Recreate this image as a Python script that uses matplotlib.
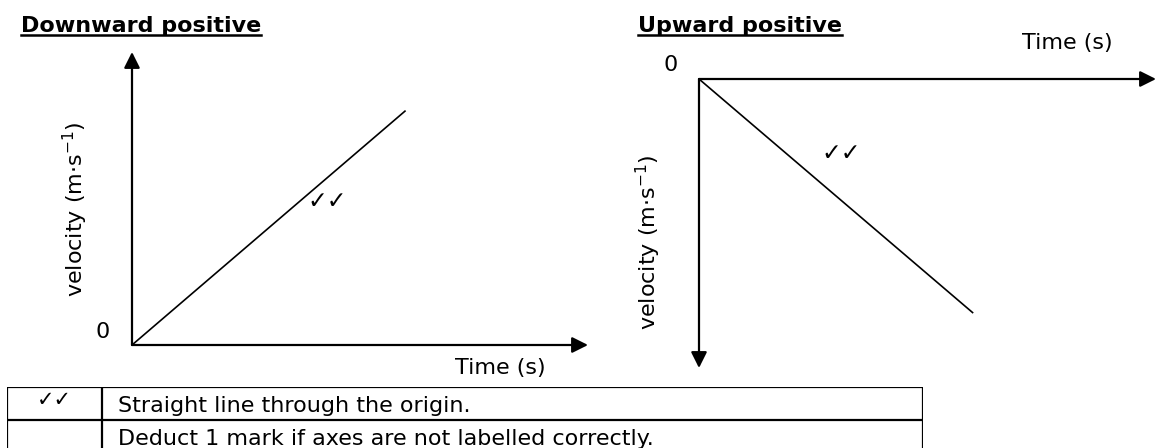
import matplotlib
matplotlib.use("Agg")
import matplotlib.pyplot as plt
from matplotlib.lines import Line2D

# velocity-time data (time axis 0..10, velocity axis 0..10)
time_down = [0, 6]
velocity_down = [0, 8]
time_up = [0, 6]
velocity_up = [0, -8.1]

titles = ["Downward positive", "Upward positive"]
xlabel = "Time (s)"
ylabel = "velocity (m\u00b7s$^{-1}$)"
tick_mark = "\u2713\u2713"

table_marks = ["\u2713\u2713", ""]
table_text = ["Straight line through the origin.",
              "Deduct 1 mark if axes are not labelled correctly."]

W, H = 1160, 448
plt.rcParams["font.family"] = ["DejaVu Sans"]
fig = plt.figure(figsize=(W / 100, H / 100), dpi=100)


def px_axes(left, top, right, bottom):
    # axes placed by pixel box (top-left origin)
    return fig.add_axes([left / W, 1 - bottom / H, (right - left) / W, (bottom - top) / H])


def bare(ax):
    for s in ax.spines.values():
        s.set_visible(False)
    ax.set_xticks([])
    ax.set_yticks([])
    ax.patch.set_alpha(0)


arrow = dict(arrowstyle="-|>", lw=1.6, color="k", mutation_scale=24, shrinkA=0, shrinkB=0)

# ---- left panel: downward positive
ax1 = px_axes(132, 52, 588, 345)
bare(ax1)
ax1.set_xlim(0, 10)
ax1.set_ylim(0, 10)
ax1.annotate("", xy=(1, 0), xytext=(0, 0), xycoords="axes fraction", arrowprops=arrow)
ax1.annotate("", xy=(0, 1), xytext=(0, 0), xycoords="axes fraction", arrowprops=arrow)
ax1.plot(time_down, velocity_down, color="k", lw=1.2, solid_capstyle="butt")
ax1.annotate("0", xy=(0, 0), xycoords="axes fraction", xytext=(-29, 13),
             textcoords="offset pixels", ha="center", va="center", fontsize=16)
ax1.annotate(xlabel, xy=(0.807, 0), xycoords="axes fraction", xytext=(0, -23),
             textcoords="offset pixels", ha="center", va="center", fontsize=16)
ax1.annotate(ylabel, xy=(0, 0.464), xycoords="axes fraction", xytext=(-57, 0),
             textcoords="offset pixels", ha="center", va="center", rotation=90, fontsize=16)
ax1.text(0.428, 0.49, tick_mark, transform=ax1.transAxes, ha="center", va="center", fontsize=17)

# ---- right panel: upward positive
ax2 = px_axes(699, 79, 1156, 368)
bare(ax2)
ax2.set_xlim(0, 10)
ax2.set_ylim(-10, 0)
ax2.annotate("", xy=(1, 1), xytext=(0, 1), xycoords="axes fraction", arrowprops=arrow)
ax2.annotate("", xy=(0, 0), xytext=(0, 1), xycoords="axes fraction", arrowprops=arrow)
ax2.plot(time_up, velocity_up, color="k", lw=1.2, solid_capstyle="butt")
ax2.annotate("0", xy=(0, 1), xycoords="axes fraction", xytext=(-28, 14),
             textcoords="offset pixels", ha="center", va="center", fontsize=16)
ax2.annotate(xlabel, xy=(0.805, 1), xycoords="axes fraction", xytext=(0, 36),
             textcoords="offset pixels", ha="center", va="center", fontsize=16)
ax2.annotate(ylabel, xy=(0, 0.436), xycoords="axes fraction", xytext=(-51, 0),
             textcoords="offset pixels", ha="center", va="center", rotation=90, fontsize=16)
ax2.text(0.311, 0.744, tick_mark, transform=ax2.transAxes, ha="center", va="center", fontsize=17)

# ---- underlined titles
title_objs = []
for x0, t in zip([21, 638], titles):
    title_objs.append(fig.text(x0 / W, 1 - 32 / H, t, fontsize=16, fontweight="bold",
                               ha="left", va="baseline"))
fig.canvas.draw()
for t in title_objs:
    bb = t.get_window_extent()
    y = 1 - 35.5 / H
    fig.add_artist(Line2D([bb.x0 / W, bb.x1 / W], [y, y], color="k", lw=1.8))

# ---- marking table (bottom row runs off the page)
tab = px_axes(7, 387, 923, 453)
bare(tab)
tab.set_xlim(0, 1)
tab.set_ylim(len(table_text), 0)
col = (102 - 7) / (923 - 7)
for r in range(len(table_text) + 1):
    tab.axhline(r, color="k", lw=1.6)
for x in [0, col, 1]:
    tab.axvline(x, color="k", lw=1.6)
for r, (m, txt) in enumerate(zip(table_marks, table_text)):
    tab.text(col / 2, r + 0.4, m, ha="center", va="center", fontsize=15)
    tab.text(0.121, r + 0.76, txt, ha="left", va="baseline", fontsize=16)

fig.savefig("out.png", dpi=100)
